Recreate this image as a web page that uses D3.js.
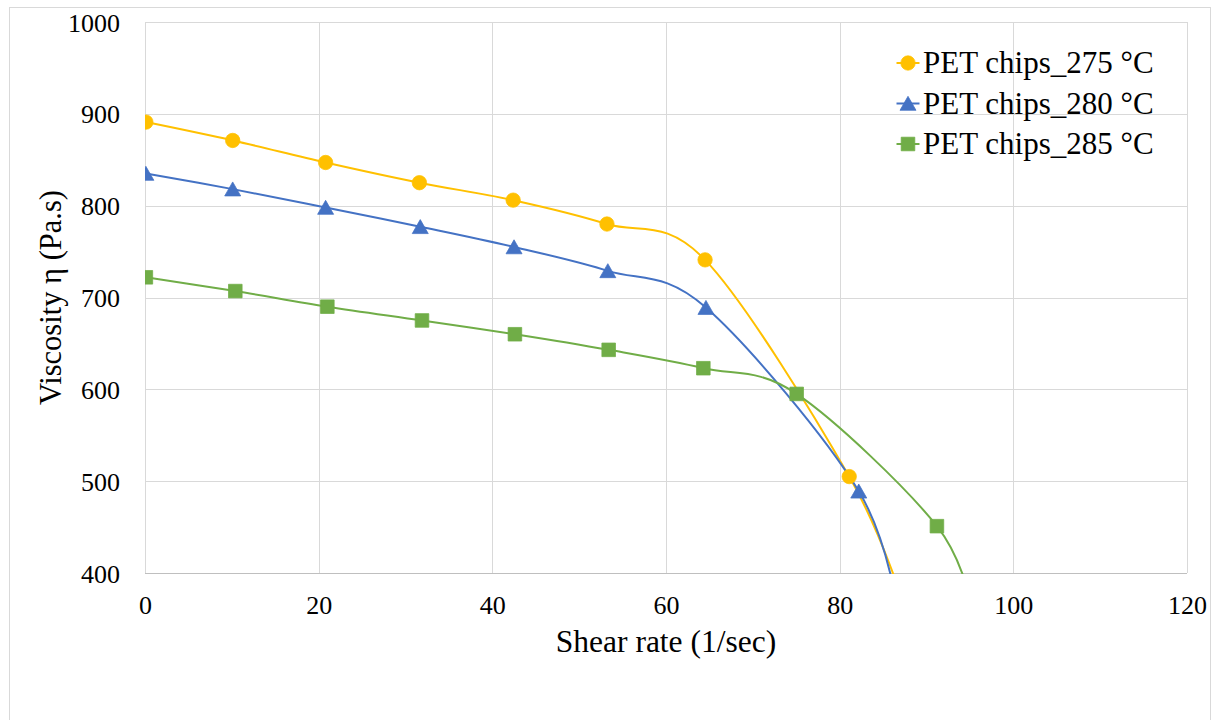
<!DOCTYPE html>
<html>
<head>
<meta charset="utf-8">
<script src="https://cdn.jsdelivr.net/npm/d3@7"></script>
<style>
  html, body { margin: 0; padding: 0; background: #ffffff; }
  svg { display: block; }
</style>
</head>
<body>
<svg id="chart" width="1218" height="720"></svg>
<script>
// ---- data ----
const seriesNames = ["PET chips_275 °C", "PET chips_280 °C", "PET chips_285 °C"];
const shear275 = [0.1, 10.1, 20.8, 31.6, 42.4, 53.2, 64.5, 81.1, 87.5];
const visc275  = [891, 871, 847, 825, 806, 780, 741, 505, 362];
const shear280 = [0.1, 10.1, 20.8, 31.7, 42.5, 53.3, 64.6, 82.2, 87.0];
const visc280  = [835, 818, 798, 777, 755, 729, 689, 489, 340];
const shear285 = [0.1, 10.4, 21.0, 31.9, 42.6, 53.4, 64.3, 75.05, 91.2, 95.5];
const visc285  = [722, 707, 690, 675, 660, 643, 623, 595, 451, 350];
const xTicks = [0, 20, 40, 60, 80, 100, 120];
const yTicks = [400, 500, 600, 700, 800, 900, 1000];
const xTitle = "Shear rate (1/sec)";
const yTitle = "Viscosity η (Pa.s)";

// ---- styles ----
const FONT = "'Liberation Serif', 'Times New Roman', serif";
const colors = ["#FFC000", "#4472C4", "#70AD47"];
const shapes = ["circle", "triangle", "square"];

const svg = d3.select("#chart").attr("font-family", FONT);
const plot = { left: 145, right: 1187, top: 22, bottom: 573 };

const x = d3.scaleLinear().domain([0, 120]).range([plot.left, plot.right]);
const y = d3.scaleLinear().domain([400, 1000]).range([plot.bottom, plot.top]);

// outer chart border
svg.append("rect")
  .attr("x", 9.5).attr("y", 7.5).attr("width", 1201).attr("height", 720)
  .attr("fill", "#fff").attr("stroke", "#d9d9d9").attr("stroke-width", 1);

// gridlines
const grid = svg.append("g");
grid.selectAll("line.h").data(yTicks).join("line")
  .attr("x1", plot.left).attr("x2", plot.right)
  .attr("y1", d => Math.round(y(d)) + 0.5).attr("y2", d => Math.round(y(d)) + 0.5)
  .attr("stroke", d => d === 400 ? "#bfbfbf" : "#d9d9d9").attr("stroke-width", 1);
grid.selectAll("line.v").data(xTicks).join("line")
  .attr("y1", plot.top).attr("y2", plot.bottom)
  .attr("x1", d => Math.round(x(d)) + 0.5).attr("x2", d => Math.round(x(d)) + 0.5)
  .attr("stroke", "#d9d9d9").attr("stroke-width", 1);

// axes (labels only)
const xAxis = d3.axisBottom(x).tickValues(xTicks).tickFormat(d3.format("d")).tickSize(0).tickPadding(0);
const gx = svg.append("g").attr("transform", `translate(0,${plot.bottom})`).call(xAxis)
  .attr("font-family", FONT).attr("font-size", 26);
gx.select(".domain").remove();
gx.selectAll("text").attr("dy", null).attr("y", 41).attr("fill", "#000");

const yAxis = d3.axisLeft(y).tickValues(yTicks).tickFormat(d3.format("d")).tickSize(0).tickPadding(0);
const gy = svg.append("g").attr("transform", `translate(120,0)`).call(yAxis)
  .attr("font-family", FONT).attr("font-size", 26);
gy.select(".domain").remove();
gy.selectAll("text").attr("dy", null).attr("y", 9).attr("x", 0).attr("fill", "#000");

// axis titles
svg.append("text").attr("x", (plot.left + plot.right) / 2).attr("y", 652)
  .attr("text-anchor", "middle").attr("font-family", FONT).attr("font-size", 31.5)
  .attr("fill", "#000").text(xTitle);
svg.append("text")
  .attr("transform", `translate(61,${(plot.top + plot.bottom) / 2}) rotate(-90)`)
  .attr("text-anchor", "middle").attr("font-family", FONT).attr("font-size", 30.5)
  .attr("fill", "#000").text(yTitle);

// clip
svg.append("clipPath").attr("id", "clip").append("rect")
  .attr("x", plot.left).attr("y", plot.top)
  .attr("width", plot.right - plot.left).attr("height", plot.bottom - plot.top + 1);

const series = [
  { name: seriesNames[0], xs: shear275, ys: visc275 },
  { name: seriesNames[1], xs: shear280, ys: visc280 },
  { name: seriesNames[2], xs: shear285, ys: visc285 }
];

function markerPath(shape) {
  if (shape === "circle") return d3.symbol(d3.symbolCircle, Math.PI * 7.2 * 7.2)();
  if (shape === "square") return "M-6.8,-6.8H6.8V6.8H-6.8Z";
  return "M0,-7.2L8,6.8L-8,6.8Z";
}

const line = d3.line().x(d => x(d[0])).y(d => y(d[1])).curve(d3.curveCardinal.tension(0));
const plotG = svg.append("g").attr("clip-path", "url(#clip)");

series.forEach((s, i) => {
  const pts = s.xs.map((v, k) => [v, s.ys[k]]);
  plotG.append("path").datum(pts).attr("d", line)
    .attr("fill", "none").attr("stroke", colors[i]).attr("stroke-width", 2);
});
series.forEach((s, i) => {
  const pts = s.xs.map((v, k) => [v, s.ys[k]]);
  plotG.selectAll(null).data(pts).join("path")
    .attr("transform", d => `translate(${x(d[0])},${y(d[1])})`)
    .attr("d", markerPath(shapes[i]))
    .attr("fill", colors[i]).attr("stroke", colors[i]).attr("stroke-width", 0.75);
});

// legend
const legend = svg.append("g");
const rowY = [63, 103.5, 144];
series.forEach((s, i) => {
  const g = legend.append("g").attr("transform", `translate(908,${rowY[i]})`);
  g.append("line").attr("x1", -11.5).attr("x2", 11.5).attr("y1", 0).attr("y2", 0)
    .attr("stroke", colors[i]).attr("stroke-width", 2);
  g.append("path").attr("d", markerPath(shapes[i]))
    .attr("fill", colors[i]).attr("stroke", colors[i]).attr("stroke-width", 0.75);
  g.append("text").attr("x", 15).attr("y", 10).attr("font-family", FONT)
    .attr("font-size", 31).attr("fill", "#000").text(s.name);
});
</script>
</body>
</html>
